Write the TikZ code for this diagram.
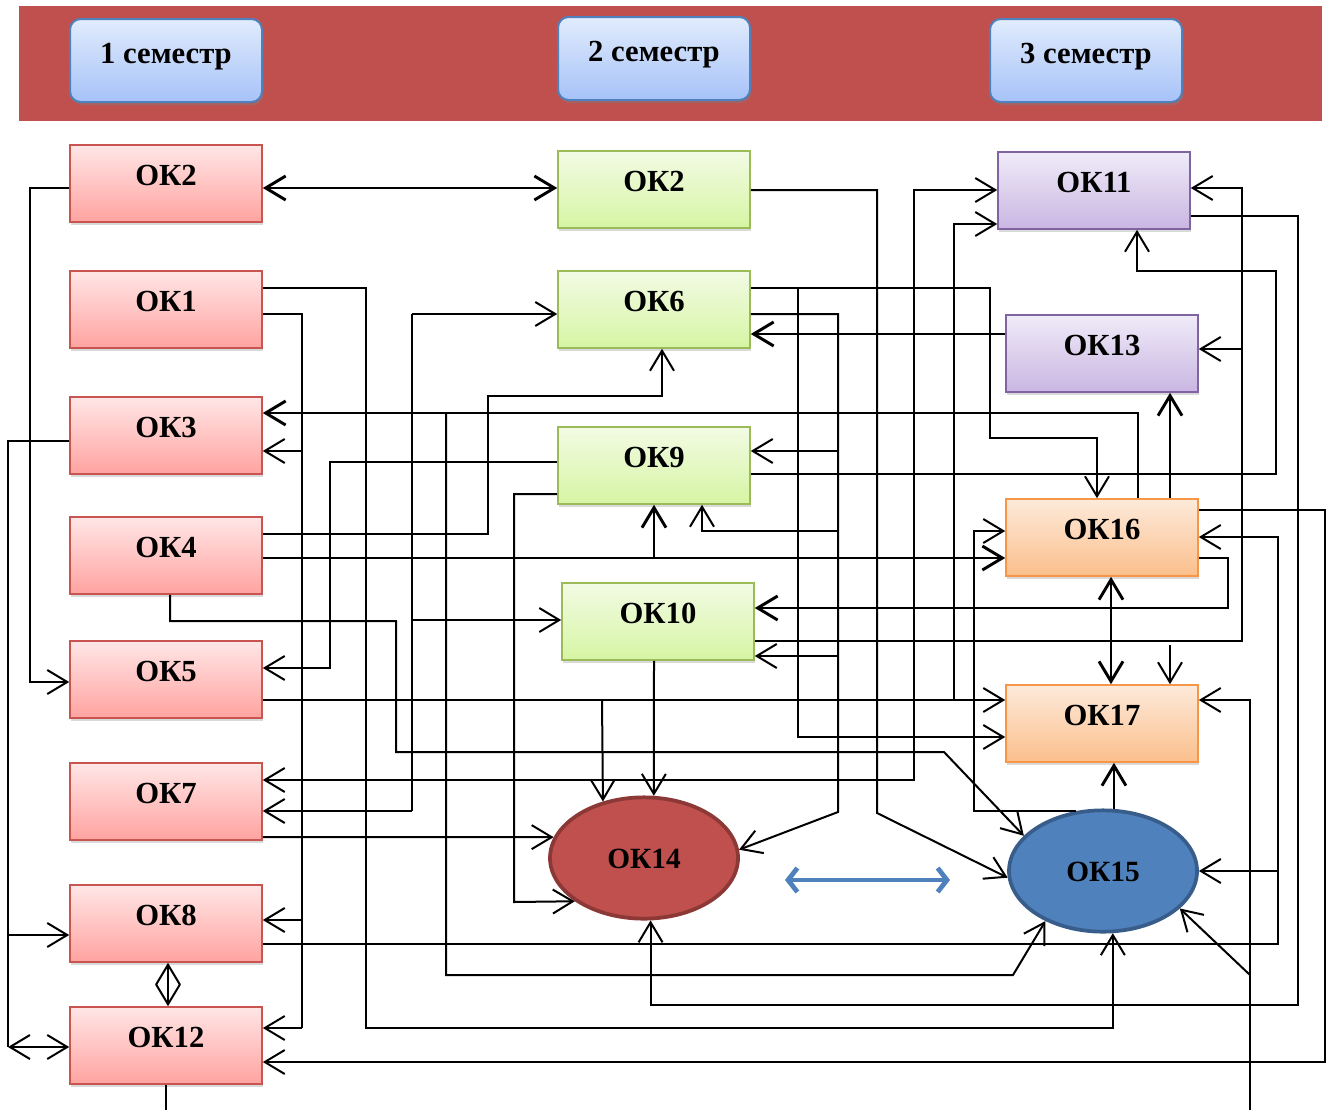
\documentclass[tikz,border=0pt]{standalone}
\usepackage{fontspec}
\setmainfont{Liberation Serif}
\usetikzlibrary{arrows.meta,shapes.geometric,shadows}

\definecolor{bandred}{RGB}{192,80,77}
\definecolor{redline}{RGB}{200,85,80}
\definecolor{redtop}{RGB}{255,230,230}
\definecolor{redbot}{RGB}{255,163,160}
\definecolor{greenline}{RGB}{155,187,89}
\definecolor{greentop}{RGB}{242,251,228}
\definecolor{greenbot}{RGB}{214,245,163}
\definecolor{purpline}{RGB}{128,100,162}
\definecolor{purptop}{RGB}{240,235,248}
\definecolor{purpbot}{RGB}{201,182,226}
\definecolor{orgline}{RGB}{247,150,70}
\definecolor{orgtop}{RGB}{253,234,218}
\definecolor{orgbot}{RGB}{251,191,140}
\definecolor{hdrline}{RGB}{79,129,189}
\definecolor{hdrtop}{RGB}{225,236,253}
\definecolor{hdrbot}{RGB}{166,194,248}
\definecolor{ovalred}{RGB}{192,80,77}
\definecolor{ovalredline}{RGB}{140,56,54}
\definecolor{ovalblue}{RGB}{79,129,189}
\definecolor{ovalblueline}{RGB}{56,93,138}

\tikzset{
  >={Straight Barb[length=15pt,width=18pt]},
  wire/.style={line width=1.5pt},
  wire2/.style={line width=2.2pt},
  okbox/.style={rectangle,minimum width=144pt,minimum height=57.75pt,inner sep=0pt,
    text height=30pt,text depth=27.75pt,line width=1.2pt,
    font=\fontsize{23}{27}\selectfont\bfseries,
    drop shadow={shadow xshift=1pt,shadow yshift=-2.5pt,opacity=0.3}},
  redbox/.style={okbox,draw=redline,top color=redtop,bottom color=redbot},
  greenbox/.style={okbox,draw=greenline,top color=greentop,bottom color=greenbot},
  purpbox/.style={okbox,draw=purpline,top color=purptop,bottom color=purpbot},
  orgbox/.style={okbox,draw=orgline,top color=orgtop,bottom color=orgbot},
  hdr/.style={rectangle,rounded corners=8pt,minimum width=144pt,minimum height=62.25pt,inner sep=0pt,
    text height=33pt,text depth=29.25pt,line width=1.5pt,draw=hdrline,top color=hdrtop,bottom color=hdrbot,
    font=\fontsize{23}{27}\selectfont\bfseries,
    drop shadow={shadow xshift=1pt,shadow yshift=-2.5pt,opacity=0.35}},
  oval/.style={ellipse,minimum width=141pt,minimum height=91pt,inner sep=0pt,line width=2.8pt,
    text height=15pt,text depth=0pt,font=\fontsize{22}{26}\selectfont\bfseries},
  bluearr/.style={line width=3.6pt,draw=hdrline,
    {Straight Barb[length=7pt,width=18pt]}-{Straight Barb[length=7pt,width=18pt]}}
}

\begin{document}
\begin{tikzpicture}[x=0.75pt,y=0.75pt,yscale=-1,xscale=1]
\useasboundingbox (0,0) rectangle (1333,1110);

%Shape: header band
\fill[bandred] (19,6) rectangle (1322,121);

% Header nodes
\node[hdr] (s1) at (166,60.5) {1 семестр};
\node[hdr] (s2) at (654,58.5) {2 семестр};
\node[hdr] (s3) at (1086,60.5) {3 семестр};

% 1 semester
\node[redbox] (a2) at (166,183.5) {ОК2};
\node[redbox] (a1) at (166,309.5) {ОК1};
\node[redbox] (a3) at (166,435.5) {ОК3};
\node[redbox] (a4) at (166,555.5) {ОК4};
\node[redbox] (a5) at (166,679.5) {ОК5};
\node[redbox] (a7) at (166,801.5) {ОК7};
\node[redbox] (a8) at (166,923.5) {ОК8};
\node[redbox] (a12) at (166,1045.5) {ОК12};

% 2 semester
\node[greenbox] (b2) at (654,189.5) {ОК2};
\node[greenbox] (b6) at (654,309.5) {ОК6};
\node[greenbox] (b9) at (654,465.5) {ОК9};
\node[greenbox] (b10) at (658,621.5) {ОК10};
\node[oval,fill=ovalred,draw=ovalredline] (b14) at (644,858) {ОК14};

% 3 semester
\node[purpbox] (c11) at (1094,190.5) {ОК11};
\node[purpbox] (c13) at (1102,353.5) {ОК13};
\node[orgbox] (c16) at (1102,537.5) {ОК16};
\node[orgbox] (c17) at (1102,723.5) {ОК17};
\node[oval,fill=ovalblue,draw=ovalblueline] (c15) at (1103,871) {ОК15};

\coordinate (bl) at (785,880);
\coordinate (br) at (950,880);
\coordinate (drop) at (1170,645);

%Straight Lines: left column
\draw[wire2,<->] (a2.east |- 0,188) -- (b2.west |- 0,188);
\draw[wire,->] (a2.west |- 0,188) -| (30,682) -- (a5.west |- 0,682);
\draw[wire] (a3.west |- 0,441) -| (8,1047);
\draw[wire,->] (8,935) -- (a8.west |- 0,935);
\draw[wire,<->] (8,1047) -- (a12.west |- 0,1047);
\draw[wire,<->] (a8.south -| 168,0) -- (a12.north -| 168,0);
\draw[wire] (a12.south -| 166,0) -- (166,1110);
\draw[wire] (a1.east |- 0,314) -| (302,1028);
\draw[wire,->] (302,451) -- (a3.east |- 0,451);
\draw[wire,->] (302,920) -- (a8.east |- 0,920);
\draw[wire,->] (302,1028) -- (a12.east |- 0,1028);
\draw[wire,->] (a1.east |- 0,288) -| (366,1028) -| (c15.279);
\draw[wire2,->] (c16.north -| 1138,0) |- (a3.east |- 0,413);
\draw[wire,->] (446,413) |- (1013,975) -- (c15.221);
\draw[wire,->] (a4.east |- 0,534) -| (488,396) -| (b6.south -| 662,0);
\draw[wire2,->] (a4.east |- 0,558) -- (c16.west |- 0,558);
\draw[wire2,->] (654,558) -- (b9.south -| 654,0);
\draw[wire,->] (a4.south -| 170,0) |- (396,621) |- (944,752) -- (c15.156);
\draw[wire,->] (a5.east |- 0,700) -- (c17.west |- 0,700);
\draw[wire,->] (602,700) -- (b14.126);
\draw[wire,->] (954,700) |- (c11.west |- 0,224);
\draw[wire] (412,314) -- (412,811);
\draw[wire,->] (412,314) -- (b6.west |- 0,314);
\draw[wire,->] (412,620) -- (b10.west |- 0,620);
\draw[wire,->] (412,811) -- (a7.east |- 0,811);
\draw[wire,->] (a7.east |- 0,837) -- (b14.167);
\draw[wire,<->] (a7.east |- 0,780) -| (914,190) -- (c11.west |- 0,190);
\draw[wire,->] (a8.east |- 0,944) -| (1278,537) -- (c16.east |- 0,537);
\draw[wire,->] (c15.east -| 1278,0) -- (c15.east);

%Straight Lines: middle column
\draw[wire,->] (b9.west |- 0,462) -| (330,668) -- (a5.east |- 0,668);
\draw[wire,->] (b9.west |- 0,494) -| (514,902) -- (b14.212);
\draw[wire,->] (b2.east |- 0,190) -| (877,813) -- (c15.184);
\draw[wire,->] (b6.east |- 0,288) -| (990,438) -| (c16.north -| 1097,0);
\draw[wire,->] (798,288) |- (c17.west |- 0,737);
\draw[wire,->] (b6.east |- 0,314) -| (838,812) -- (b14.5);
\draw[wire,->] (838,451) -- (b9.east |- 0,451);
\draw[wire,->] (838,531) -| (b9.south -| 702,0);
\draw[wire,->] (838,656) -- (b10.east |- 0,656);
\draw[wire,->] (b9.east |- 0,474) -| (1276,271) -| (c11.south -| 1137,0);
\draw[wire,->] (b10.east |- 0,641) -| (1242,188) -- (c11.east |- 0,188);
\draw[wire,->] (1242,349) -- (c13.east |- 0,349);
\draw[wire,->] (b10.south -| 654,0) -- (b14.81);

%Straight Lines: right column
\draw[wire2,->] (c13.west |- 0,334) -- (b6.east |- 0,334);
\draw[wire,->] (c11.east |- 0,216) -| (1298,1005) -| (b14.276);
\draw[wire,->] (c16.east |- 0,510) -| (1325,1062) -- (a12.east |- 0,1062);
\draw[wire2,->] (c16.east |- 0,558) -| (1228,608) -- (b10.east |- 0,608);
\draw[wire2,->] (c16.north -| 1170,0) -- (c13.south -| 1170,0);
\draw[wire2,<->] (c16.south -| 1111,0) -- (c17.north -| 1111,0);
\draw[wire,->] (drop) -- (c17.north -| drop);
\draw[wire2,->] (c15.80) -- (c17.south -| c15.80);
\draw[wire,->] (c15.114) -| (974,531) -- (c16.west |- 0,531);
\draw[wire,->] (1250,1110) |- (c17.east |- 0,700);
\draw[wire,->] (1250,975) -- (c15.334);

%Blue double arrow
\draw[bluearr] (bl) -- (br);

\end{tikzpicture}
\end{document}
